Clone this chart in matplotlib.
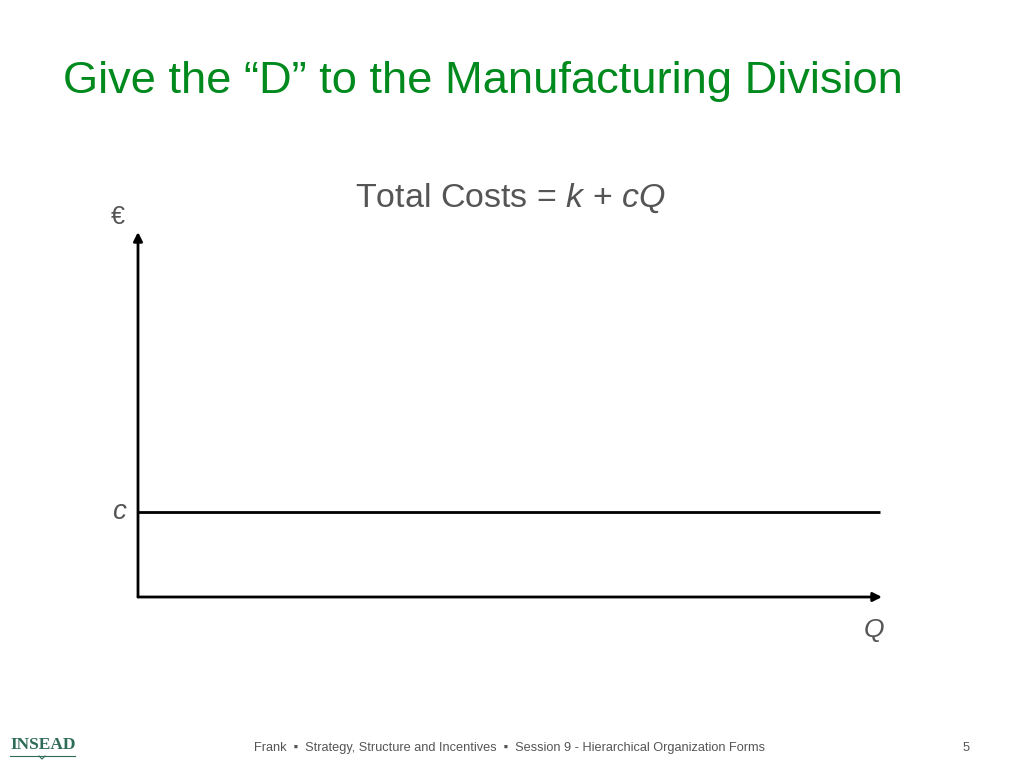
import matplotlib
matplotlib.use('Agg')
import matplotlib.pyplot as plt

# chart data (axes units: 0..1 on both axes)
q_range = [0.0, 1.0]
c_level = [0.233, 0.233]
title = 'Give the \u201cD\u201d to the Manufacturing Division'
subtitle = 'Total Costs = $\\mathit{k}$ + $\\mathit{cQ}$'
footer = 'Frank  \u25aa  Strategy, Structure and Incentives  \u25aa  Session 9 - Hierarchical Organization Forms'
page_no = '5'

plt.rcParams['font.family'] = ['Liberation Sans', 'DejaVu Sans']
plt.rcParams['mathtext.fontset'] = 'custom'
plt.rcParams['mathtext.it'] = 'Liberation Sans:italic'
plt.rcParams['mathtext.rm'] = 'Liberation Sans'

W, H = 1024, 768
fig = plt.figure(figsize=(W / 100, H / 100), dpi=100)
fig.patch.set_facecolor('white')

green = '#008A1E'
grey = '#555555'

# title
fig.text(63 / W, 1 - 81 / H, title, color=green, fontsize=32.6, va='center', ha='left')

# subtitle
fig.text(510 / W, 1 - 198 / H, subtitle, color=grey, fontsize=24.5, va='center', ha='center')

# chart axes
left, right, bottom, top = 138, 882, 597, 232
ax = fig.add_axes([left / W, 1 - bottom / H, (right - left) / W, (bottom - top) / H])
ax.set_xlim(0, 1)
ax.set_ylim(0, 1)
ax.axis('off')

ax.plot([q_range[0], 0.9973], c_level, color='black', lw=2, solid_capstyle='butt')
# axes arrows
ax.annotate('', xy=(q_range[1], 0), xytext=(0, 0),
            arrowprops=dict(arrowstyle='-|>', color='black', lw=2, mutation_scale=13,
                            shrinkA=0, shrinkB=0))
ax.annotate('', xy=(0, 1.0), xytext=(0, 0),
            arrowprops=dict(arrowstyle='-|>', color='black', lw=2, mutation_scale=13,
                            shrinkA=0, shrinkB=0))
ax.text(-0.016, c_level[0], 'c', style='italic', color=grey, fontsize=20,
        ha='right', va='center')
ax.text(0.989, -0.09, 'Q', style='italic', color=grey, fontsize=19,
        ha='center', va='center')
ax.text(-0.027, 1.04, '\u20ac', color=grey, fontsize=18, ha='center', va='center')

# footer
fig.text(509 / W, 1 - 748 / H, footer, color=grey, fontsize=9.2, ha='center', va='center')
fig.text(966 / W, 1 - 748 / H, page_no, color=grey, fontsize=9.2, ha='center', va='center')

# INSEAD logo
logo_col = '#2E6B58'
fig.text(43 / W, 1 - 745 / H, 'INSEAD', family='Liberation Serif', weight='bold',
         color=logo_col, fontsize=12.5, ha='center', va='center')
fig.add_artist(plt.Line2D([10 / W, 75 / W], [1 - 756 / H, 1 - 756 / H],
                          color=logo_col, lw=0.8))
fig.add_artist(plt.Line2D([39 / W, 42 / W, 45 / W], [1 - 756 / H, 1 - 759 / H, 1 - 756 / H],
                          color=logo_col, lw=0.8))

fig.savefig('out.png', dpi=100)
